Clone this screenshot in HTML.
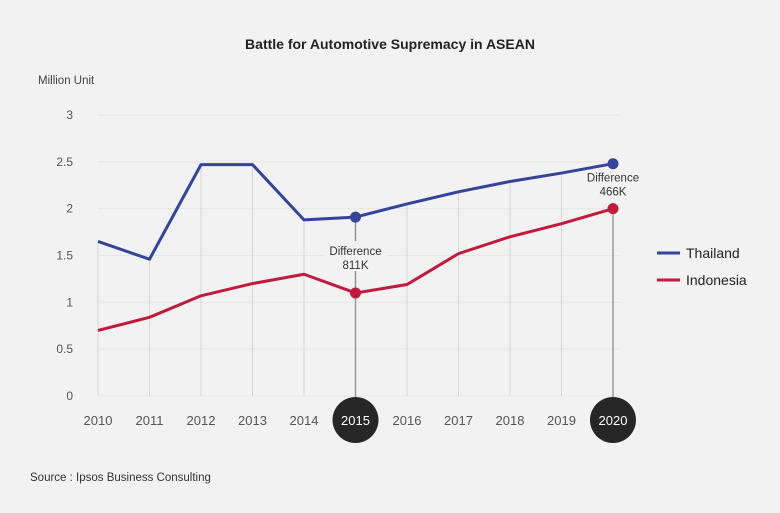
<!DOCTYPE html>
<html><head><meta charset="utf-8"><style>
body{margin:0;background:#f2f2f2;}
svg{display:block;font-family:"Liberation Sans",sans-serif;}
</style></head><body>
<svg id="chart" width="780" height="513">
<rect width="780" height="513" fill="#f2f2f2"/>
<text x="390" y="49" text-anchor="middle" font-size="14" font-weight="bold" fill="#222">Battle for Automotive Supremacy in ASEAN</text>
<text x="38" y="84" font-size="11.5" fill="#444">Million Unit</text>
<text x="30" y="481" font-size="11.5" fill="#333">Source : Ipsos Business Consulting</text>
<g id="grid"></g><g id="marks"></g>
<g>
<line x1="657" y1="253" x2="680" y2="253" stroke="#34449a" stroke-width="3"/>
<text x="686" y="258" font-size="14" fill="#222">Thailand</text>
<line x1="657" y1="280" x2="680" y2="280" stroke="#c21a3d" stroke-width="3"/>
<text x="686" y="285" font-size="14" fill="#222">Indonesia</text>
</g>
</svg>
<script>
const years=[2010,2011,2012,2013,2014,2015,2016,2017,2018,2019,2020];
const thailand=[1.65,1.46,2.47,2.47,1.88,1.91,2.05,2.18,2.29,2.38,2.48];
const indonesia=[0.70,0.84,1.07,1.20,1.30,1.10,1.19,1.52,1.70,1.84,2.00];
const yTicks=[0,0.5,1,1.5,2,2.5,3];
const highlightYears=[2015,2020];
const diffLabels=["811K","466K"];

const NS="http://www.w3.org/2000/svg";
const x=i=>98+i*51.5;
const y=v=>396-v*(281/3);
function mk(t,a,p){const e=document.createElementNS(NS,t);for(const k in a)e.setAttribute(k,a[k]);p.appendChild(e);return e;}
const grid=document.getElementById('grid'),marks=document.getElementById('marks');
yTicks.forEach(v=>{
  const l=mk('line',{x1:98,x2:620,y1:y(v),y2:y(v),stroke:'#e6e6e6','stroke-width':1},grid);
  
  
  const t=mk('text',{x:73,y:y(v)+4,'text-anchor':'end','font-size':12,fill:'#555'},grid);
  t.textContent=v;
  
  
});
years.forEach((yr,i)=>{
  const hl=highlightYears.includes(yr);
  const top=(i===years.length-1)?y(indonesia[i]):y(thailand[i]);
  const l=mk('line',{x1:x(i),x2:x(i),y1:top,y2:hl?420:396,stroke:hl?'#999':'#d6d6d6','stroke-width':hl?1.5:1},grid);
  
  
  if(hl){const c=mk('circle',{cx:x(i),cy:420,r:23,fill:'#262626'},grid);
    
    }
  const t=mk('text',{x:x(i),y:425,'text-anchor':'middle','font-size':13,fill:hl?'#fff':'#555'},grid);
  t.textContent=yr;
  
  
});
function series(vals,color,name){
  const p=mk('polyline',{points:vals.map((v,i)=>x(i)+','+y(v)).join(' '),fill:'none',stroke:color,'stroke-width':3,'stroke-linejoin':'round'},marks);
  
  
}
series(thailand,'#34449a','thailand');
series(indonesia,'#c21a3d','indonesia');
highlightYears.forEach((yr,k)=>{
  const i=years.indexOf(yr);
  if(k===0){
    const d=mk('line',{x1:x(i),x2:x(i),y1:y(thailand[i]),y2:y(indonesia[i]),stroke:'#888','stroke-dasharray':'2,2'},marks);
    
    
  }
  const c1=mk('circle',{cx:x(i),cy:y(thailand[i]),r:5.5,fill:'#34449a'},marks);
  
  
  const c2=mk('circle',{cx:x(i),cy:y(indonesia[i]),r:5.5,fill:'#c21a3d'},marks);
  
  
  const mid=k===0?(y(thailand[i])+y(indonesia[i]))/2:y(thailand[i])+18;
  if(k===0){
    const bg=mk('rect',{x:x(i)-31,y:mid-14,width:62,height:30,fill:'#f2f2f2'},marks);
    
    
  }
  const t=mk('text',{x:x(i),y:mid,'text-anchor':'middle','font-size':11.5,fill:'#333'},marks);
  
  
  const a=mk('tspan',{x:x(i),dy:0},t);a.textContent='Difference';
  const b=mk('tspan',{x:x(i),dy:14},t);b.textContent=diffLabels[k];
});
</script>
</body></html>
